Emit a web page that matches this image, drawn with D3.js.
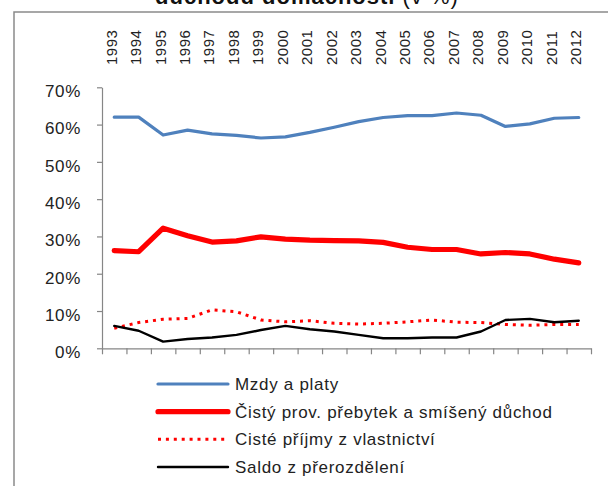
<!DOCTYPE html>
<html>
<head>
<meta charset="utf-8">
<script src="https://cdn.jsdelivr.net/npm/d3@7"></script>
<style>
  html, body { margin: 0; padding: 0; background: #fff; }
  svg { display: block; font-family: "Liberation Sans", Arial, sans-serif; }
</style>
</head>
<body>
<svg id="chart" width="608" height="486"></svg>
<script>
// ---- data ----
const years = ["1993","1994","1995","1996","1997","1998","1999","2000","2001","2002",
               "2003","2004","2005","2006","2007","2008","2009","2010","2011","2012"];
const mzdy    = [62.0, 62.0, 57.2, 58.5, 57.5, 57.1, 56.4, 56.7, 57.9, 59.3,
                 60.8, 61.9, 62.4, 62.4, 63.1, 62.5, 59.5, 60.2, 61.7, 61.9];
const cistyProv = [26.2, 25.9, 32.2, 30.2, 28.5, 28.8, 29.9, 29.3, 29.0, 28.9,
                 28.8, 28.4, 27.1, 26.5, 26.5, 25.3, 25.7, 25.3, 23.9, 22.9];
const prijmy  = [5.4, 6.9, 7.8, 8.0, 10.3, 9.8, 7.6, 7.1, 7.4, 6.7,
                 6.5, 6.7, 7.1, 7.6, 7.0, 6.9, 6.4, 6.2, 6.4, 6.4];
const saldo   = [6.0, 4.7, 1.8, 2.5, 2.9, 3.6, 4.9, 6.0, 5.1, 4.5,
                 3.6, 2.7, 2.7, 2.9, 2.9, 4.5, 7.6, 7.9, 7.0, 7.4];
const yTicks  = [0, 10, 20, 30, 40, 50, 60, 70];
const seriesNames = ["Mzdy a platy", "Čistý prov. přebytek a smíšený důchod",
                     "Cisté příjmy z vlastnictví", "Saldo z přerozdělení"];
const titleBold = "důchodu domácností";
const titleRest = " (v %)";

// ---- layout / style ----
const svg = d3.select("#chart");
const L = 102, R = 591, T = 87.3, B = 348.3;
const x = d3.scaleBand().domain(years).range([L, R]).padding(0);
const xEdge = d3.scaleLinear().domain([0, years.length]).range([L, R]);
const y = d3.scaleLinear().domain([0, 70]).range([B, T]);
const axisColor = "#868686";
const textColor = "#222";

// frame
svg.append("path")
  .attr("d", "M14,486 L14,12 L608,12")
  .attr("fill", "none").attr("stroke", "#8a8a8a").attr("stroke-width", 1.5);

// title (cut off at top)
const title = svg.append("text")
  .attr("x", 307).attr("y", 3.5)
  .attr("text-anchor", "middle")
  .attr("fill", "#111")
  .style("font-size", "22px").style("letter-spacing", "1px");
title.append("tspan").attr("font-weight", "bold").text(titleBold);
title.append("tspan").text(titleRest);

// y axis
const yAxis = d3.axisLeft(y)
  .tickValues(yTicks)
  .tickSize(5)
  .tickSizeOuter(0)
  .tickPadding(16)
  .tickFormat(d => d + "%");
const gy = svg.append("g").attr("transform", `translate(${L},0)`).call(yAxis);
gy.select(".domain").attr("stroke", axisColor).attr("stroke-width", 1.2);
gy.selectAll(".tick line").attr("stroke", axisColor).attr("stroke-width", 1.2);
gy.selectAll(".tick text")
  .attr("fill", textColor)
  .attr("dy", "0.55em")
  .style("font-size", "17px")
  .style("letter-spacing", "0.7px")
  .style("font-family", "'Liberation Sans', Arial, sans-serif");

// x axis (bottom, ticks between categories, no labels)
const xAxis = d3.axisBottom(xEdge)
  .tickValues(d3.range(0, years.length + 1))
  .tickSize(6)
  .tickSizeOuter(0)
  .tickFormat("");
const gx = svg.append("g").attr("transform", `translate(0,${B})`).call(xAxis);
gx.select(".domain").attr("stroke", axisColor).attr("stroke-width", 1.2);
gx.selectAll(".tick line").attr("stroke", axisColor).attr("stroke-width", 1.2);

// year labels at top (rotated)
svg.append("g").selectAll("text")
  .data(years).join("text")
  .attr("transform", d => `translate(${x(d) + x.bandwidth() / 2 - 3},65) rotate(-90)`)
  .attr("dy", "0.36em")
  .attr("text-anchor", "start")
  .attr("fill", textColor)
  .style("font-size", "15px")
  .style("letter-spacing", "0.5px")
  .text(d => d);

// lines
const line = d3.line()
  .x((d, i) => x(years[i]) + x.bandwidth() / 2)
  .y(d => y(d));

const styles = [
  { data: mzdy,      color: "#4f81bd", width: 3.2, dash: null },
  { data: cistyProv, color: "#ff0000", width: 5.2, dash: null },
  { data: prijmy,    color: "#ff0000", width: 3,   dash: "3,4.9" },
  { data: saldo,     color: "#000000", width: 2.4, dash: null }
];

styles.forEach(s => {
  svg.append("path")
    .datum(s.data)
    .attr("d", line)
    .attr("fill", "none")
    .attr("stroke", s.color)
    .attr("stroke-width", s.width)
    .attr("stroke-linejoin", "round")
    .attr("stroke-linecap", s.dash ? "butt" : "round")
    .attr("stroke-dasharray", s.dash);
});

// legend
const legendY = d3.scalePoint().domain(seriesNames).range([384, 467]);
const lg = svg.append("g");
seriesNames.forEach((name, i) => {
  const s = styles[i];
  const yy = legendY(name);
  lg.append("line")
    .attr("x1", 158).attr("x2", 228).attr("y1", yy).attr("y2", yy)
    .attr("stroke", s.color).attr("stroke-width", s.width)
    .attr("stroke-linecap", s.dash ? "butt" : "round")
    .attr("stroke-dasharray", s.dash);
  lg.append("text")
    .attr("x", 235).attr("y", yy + 6)
    .attr("fill", textColor)
    .style("font-size", "17px")
    .style("letter-spacing", "0.7px")
    .text(name);
});
</script>
</body>
</html>
